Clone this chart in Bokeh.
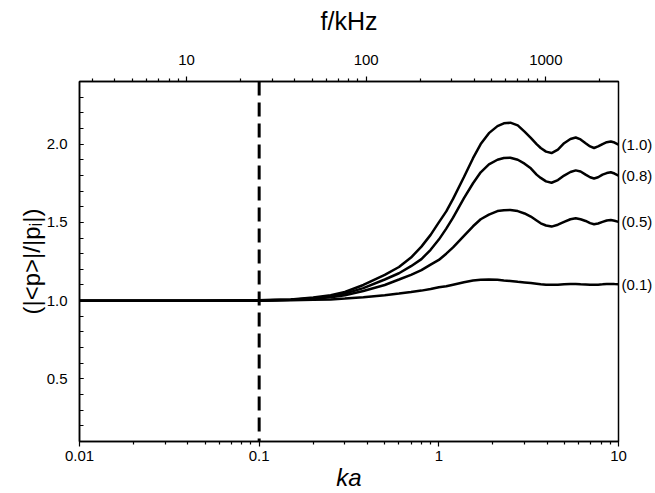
import math
from bokeh.plotting import figure
from bokeh.models import (Range1d, LogScale, LogAxis, LinearAxis, FixedTicker,
                          CustomJSTickFormatter, Span)
from bokeh.embed import file_html
from bokeh.resources import INLINE

# ---------------- data ----------------
ka = [0.01, 0.05, 0.1, 0.15, 0.2, 0.25, 0.3, 0.38, 0.5, 0.6, 0.7, 0.8, 0.9,
      1.0, 1.1, 1.2, 1.38, 1.55, 1.71, 1.9, 2.12, 2.3, 2.5, 2.75, 3.0, 3.25,
      3.5, 3.69, 3.95, 4.24, 4.6, 4.98, 5.4, 5.78, 6.15, 6.56, 6.95, 7.31,
      7.7, 8.15, 8.6, 9.06, 9.5, 10.0]

p_10 = [1.0, 1.0, 1.002, 1.008, 1.02, 1.035, 1.055, 1.10, 1.165, 1.215, 1.275,
        1.345, 1.42, 1.50, 1.57, 1.65, 1.79, 1.91, 2.0, 2.07, 2.115, 2.133,
        2.137, 2.12, 2.08, 2.04, 2.0, 1.975, 1.952, 1.943, 1.965, 2.006, 2.033,
        2.042, 2.03, 2.006, 1.985, 1.975, 1.985, 2.0, 2.012, 2.017, 2.01, 1.996]

p_08 = [1.0, 1.0, 1.002, 1.006, 1.016, 1.028, 1.045, 1.08, 1.135, 1.175, 1.22,
        1.265, 1.325, 1.39, 1.46, 1.53, 1.655, 1.75, 1.82, 1.87, 1.90, 1.911,
        1.913, 1.90, 1.875, 1.845, 1.805, 1.784, 1.762, 1.753, 1.77, 1.799,
        1.822, 1.832, 1.825, 1.805, 1.788, 1.78, 1.788, 1.805, 1.815, 1.82,
        1.812, 1.799]

p_05 = [1.0, 1.0, 1.001, 1.005, 1.012, 1.021, 1.034, 1.062, 1.10, 1.135, 1.165,
        1.195, 1.23, 1.26, 1.30, 1.34, 1.414, 1.475, 1.52, 1.55, 1.572, 1.578,
        1.579, 1.572, 1.557, 1.537, 1.512, 1.494, 1.48, 1.473, 1.485, 1.503,
        1.52, 1.526, 1.52, 1.509, 1.495, 1.488, 1.493, 1.503, 1.512, 1.515,
        1.51, 1.503]

p_01 = [1.0, 1.0, 1.0, 1.002, 1.005, 1.008, 1.013, 1.022, 1.035, 1.045, 1.055,
        1.064, 1.074, 1.086, 1.092, 1.102, 1.118, 1.128, 1.133, 1.135, 1.133,
        1.129, 1.125, 1.12, 1.116, 1.112, 1.108, 1.105, 1.102, 1.101, 1.102,
        1.105, 1.107, 1.107, 1.105, 1.103, 1.101, 1.101, 1.102, 1.104, 1.106,
        1.107, 1.106, 1.105]

series_names = ["(1.0)", "(0.8)", "(0.5)", "(0.1)"]
series_vals = [p_10, p_08, p_05, p_01]

ka_ticks = [0.01, 0.1, 1, 10]
f_ticks = [10, 100, 1000]
y_ticks = [0.5, 1.0, 1.5, 2.0]
ka_marker = 0.1
ka_per_khz = 0.00394          # ka = ka_per_khz * f[kHz]

X0, X1, Y0, Y1 = 0.01, 10.0, 0.1, 2.4
FONT = "Liberation Sans"
W, H = 655, 493
FL, FR, FT, FB = 79, 618, 81, 443

p = figure(width=W, height=H, x_axis_type="log",
           x_range=Range1d(X0, X1), y_range=Range1d(Y0, Y1),
           output_backend="svg", toolbar_location=None,
           min_border_left=FL, min_border_right=W - FR,
           min_border_top=FT, min_border_bottom=H - FB)
p.xgrid.visible = False
p.ygrid.visible = False
p.outline_line_color = "black"
p.outline_line_width = 1.5
p.background_fill_color = "white"
p.border_fill_color = "white"

num_fmt = CustomJSTickFormatter(code="return String(parseFloat(tick.toPrecision(6)));")

# bottom axis (ka)
bminor = [m * 10 ** e for e in (-2, -1, 0) for m in range(2, 10)]
xa = p.xaxis[0]
xa.ticker = FixedTicker(ticks=ka_ticks, minor_ticks=bminor)
xa.formatter = num_fmt
xa.major_label_standoff = 4
xa.axis_label = "ka"
xa.axis_label_text_font_style = "italic"
xa.axis_label_text_font_size = "24px"
xa.axis_label_standoff = 0

# left axis
ya = p.yaxis[0]
ya.ticker = FixedTicker(ticks=y_ticks, minor_ticks=[round(0.1 * i, 1) for i in range(2, 24)])
ya.formatter = CustomJSTickFormatter(code="return tick.toFixed(1);")
ya.major_tick_in = 4
ya.major_tick_out = 0
ya.minor_tick_in = 4
ya.minor_tick_out = 0
ya.major_label_standoff = 12
ya.axis_label = "(|<p>|/|p\u1d62|)"
ya.axis_label_text_font_style = "normal"
ya.axis_label_text_font_size = "24px"
ya.axis_label_standoff = -1

# top axis (f / kHz)
f_lo, f_hi = X0 / ka_per_khz, X1 / ka_per_khz
p.extra_x_ranges = {"f": Range1d(f_lo, f_hi)}
p.extra_x_scales = {"f": LogScale()}
tminor = [m * 10 ** e for e in range(0, 4) for m in range(2, 10)
          if f_lo <= m * 10 ** e <= f_hi]
ta = LogAxis(x_range_name="f")
ta.ticker = FixedTicker(ticks=f_ticks, minor_ticks=tminor)
ta.formatter = num_fmt
ta.major_label_standoff = 12
ta.axis_label = "f/kHz"
ta.axis_label_text_font_style = "normal"
ta.axis_label_text_font_size = "25px"
ta.axis_label_standoff = 17
p.add_layout(ta, "above")

# right axis used only to label the curve ends
ra = LinearAxis()
ra.ticker = FixedTicker(ticks=[v[-1] for v in series_vals])
ra.formatter = CustomJSTickFormatter(
    args=dict(vals=[v[-1] for v in series_vals], names=series_names),
    code="""
    for (let i = 0; i < vals.length; i++) {
        if (Math.abs(vals[i] - tick) < 1e-6) return names[i];
    }
    return '';
    """)
ra.axis_line_color = None
ra.major_tick_line_color = None
ra.minor_tick_line_color = None
ra.major_tick_in = 0
ra.major_tick_out = 0
ra.minor_tick_in = 0
ra.minor_tick_out = 0
ra.major_label_standoff = 3
ra.major_label_text_font = FONT
ra.major_label_text_font_size = "15px"
ra.major_label_text_color = "black"
p.add_layout(ra, "right")

for ax in (xa, ta):
    ax.major_tick_in = 0
    ax.major_tick_out = 5
    ax.minor_tick_in = 0
    ax.minor_tick_out = 3

for ax in (xa, ya, ta):
    ax.axis_line_color = "black"
    ax.axis_line_width = 1.5
    ax.major_tick_line_color = "black"
    ax.minor_tick_line_color = "black"
    ax.major_tick_line_width = 1.2
    ax.minor_tick_line_width = 1.2
    ax.major_label_text_font = FONT
    ax.major_label_text_font_size = "15px"
    ax.major_label_text_color = "black"
    ax.axis_label_text_font = FONT
    ax.axis_label_text_color = "black"

# curves
for vals in series_vals:
    p.line(ka, vals, line_color="black", line_width=2.5)

# dashed marker at ka = 0.1
p.add_layout(Span(location=ka_marker, dimension="height", line_color="black",
                  line_width=3, line_dash="14 7"))

open("out.html", "w").write(file_html(p, INLINE))
